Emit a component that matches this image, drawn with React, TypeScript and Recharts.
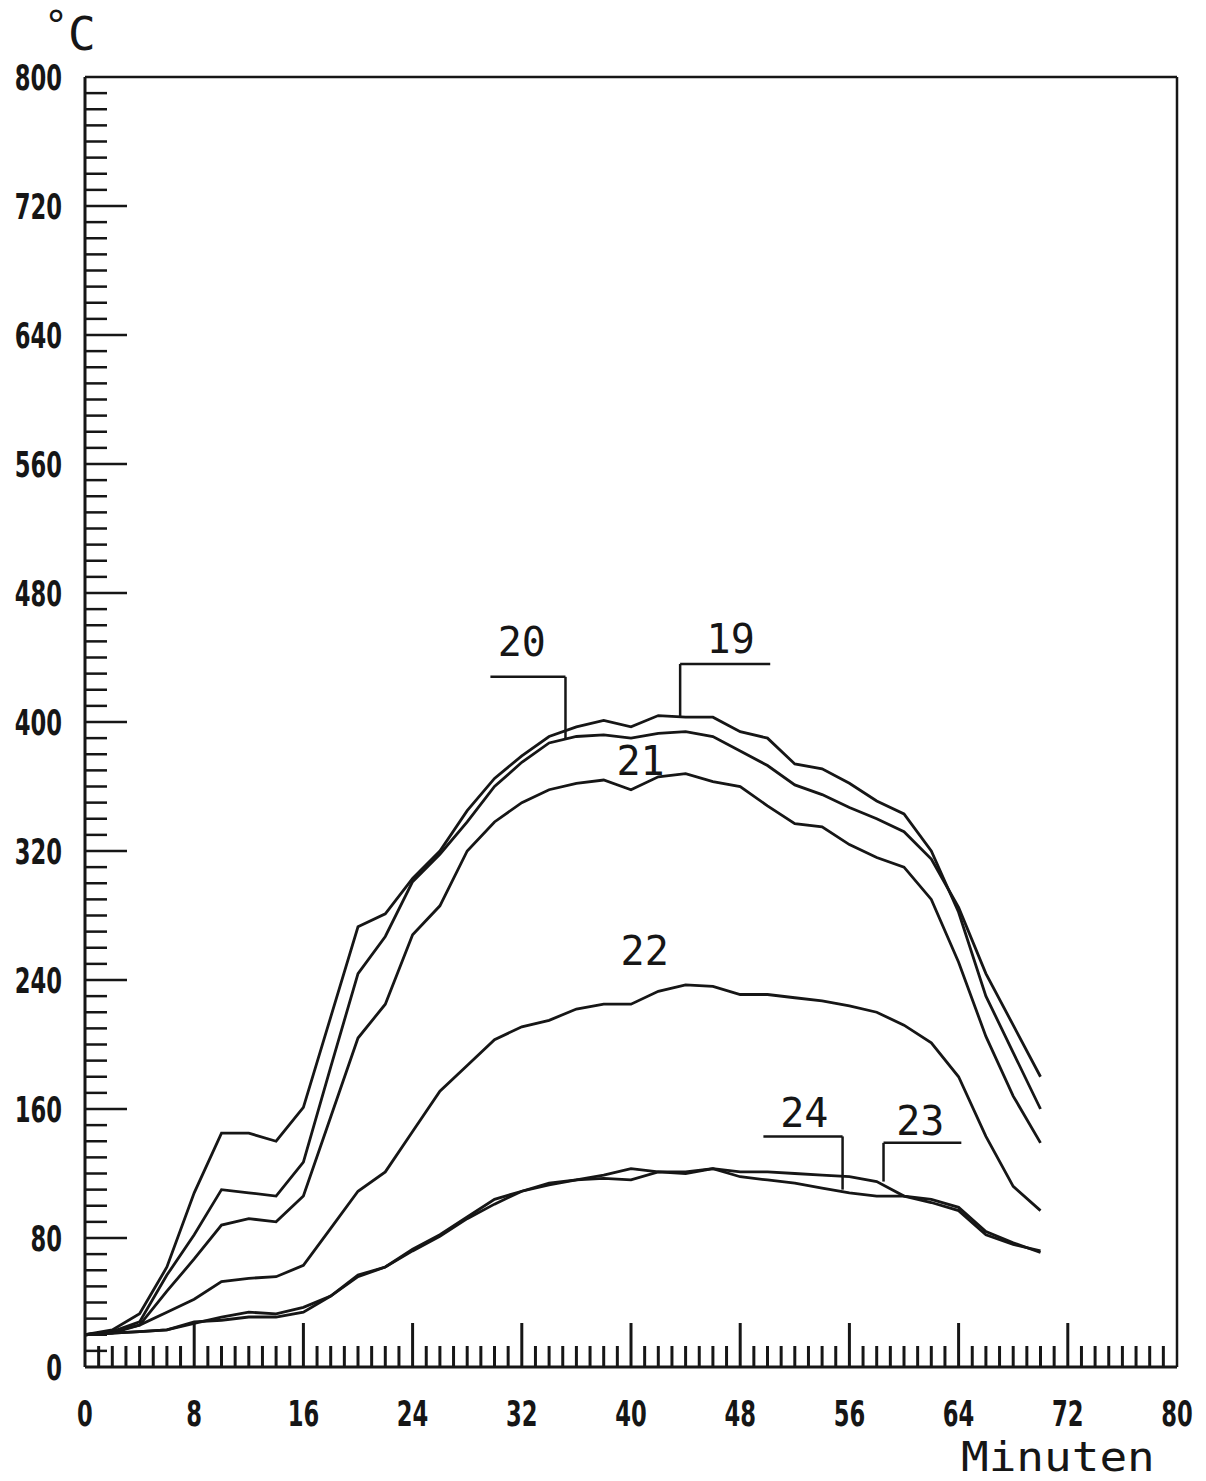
import React from "react";
import { LineChart, Line, XAxis, YAxis, ReferenceLine, ReferenceDot } from "recharts";

// Messzeit in Minuten (alle 2 min)
const minutes = [0, 2, 4, 6, 8, 10, 12, 14, 16, 18, 20, 22, 24, 26, 28, 30, 32, 34, 36, 38, 40, 42, 44, 46, 48, 50, 52, 54, 56, 58, 60, 62, 64, 66, 68, 70];

// Temperaturen der Messstellen 19..24 in °C
const m19 = [20, 23, 33, 62, 108, 145, 145, 140, 161, 217, 273, 281, 303, 320, 345, 365, 379, 391, 397, 401, 397, 404, 403, 403, 394, 390, 374, 371, 362, 351, 343, 320, 282, 230, 195, 160];
const m20 = [20, 22, 28, 57, 82, 110, 108, 106, 127, 186, 244, 267, 301, 318, 338, 360, 375, 387, 391, 392, 390, 393, 394, 391, 382, 373, 361, 355, 347, 340, 332, 315, 285, 244, 212, 180];
const m21 = [20, 21, 26, 47, 67, 88, 92, 90, 106, 155, 204, 225, 268, 286, 320, 338, 350, 358, 362, 364, 358, 366, 368, 363, 360, 348, 337, 335, 324, 316, 310, 290, 251, 205, 168, 139];
const m22 = [20, 22, 26, 34, 42, 53, 55, 56, 63, 86, 109, 121, 146, 171, 187, 203, 211, 215, 222, 225, 225, 233, 237, 236, 231, 231, 229, 227, 224, 220, 212, 201, 180, 143, 112, 97];
const m23 = [20, 21, 22, 23, 27, 31, 34, 33, 37, 44, 56, 62, 72, 81, 92, 101, 109, 113, 116, 117, 116, 121, 120, 123, 121, 121, 120, 119, 118, 115, 106, 104, 99, 84, 77, 71];
const m24 = [20, 21, 22, 23, 28, 29, 31, 31, 34, 44, 57, 62, 73, 82, 93, 104, 109, 114, 116, 119, 123, 121, 121, 123, 118, 116, 114, 111, 108, 106, 106, 102, 97, 82, 76, 72];

const seriesKeys = ["m19", "m20", "m21", "m22", "m23", "m24"];

const xTicks = Array.from({ length: 81 }, (_, i) => i);
const yTicks = Array.from({ length: 81 }, (_, i) => i * 10);

// Kurvenbeschriftungen (Text + Hinweislinien) in Datenkoordinaten
const curveLabels = [
  { text: "20", x: 32.0, y: 441 },
  { text: "19", x: 47.3, y: 443 },
  { text: "21", x: 40.7, y: 367 },
  { text: "22", x: 41.0, y: 249 },
  { text: "24", x: 52.7, y: 149 },
  { text: "23", x: 61.2, y: 144 },
];
const leaders = [
  [{ x: 29.7, y: 428 }, { x: 35.2, y: 428 }],
  [{ x: 35.2, y: 428 }, { x: 35.2, y: 389 }],
  [{ x: 43.6, y: 403 }, { x: 43.6, y: 436 }],
  [{ x: 43.6, y: 436 }, { x: 50.2, y: 436 }],
  [{ x: 49.7, y: 143 }, { x: 55.5, y: 143 }],
  [{ x: 55.5, y: 143 }, { x: 55.5, y: 110 }],
  [{ x: 58.5, y: 115 }, { x: 58.5, y: 139 }],
  [{ x: 58.5, y: 139 }, { x: 64.2, y: 139 }],
];

const data = minutes.map((t, i) => ({
  t,
  m19: m19[i],
  m20: m20[i],
  m21: m21[i],
  m22: m22[i],
  m23: m23[i],
  m24: m24[i],
}));

const INK = "#161616";
const tickFont = "'DejaVu Sans Condensed', 'DejaVu Sans', sans-serif";
const monoFont = "'DejaVu Sans Mono', 'Liberation Mono', monospace";

// schmale, hohe Ziffern wie beim Plotter
function NarrowText({ x, y, anchor, children }: any) {
  return (
    <text
      transform={`translate(${x},${y}) scale(0.72,1)`}
      textAnchor={anchor}
      fontFamily={tickFont}
      fontWeight={700}
      fontSize={35}
      fill={INK}
    >
      {children}
    </text>
  );
}

function YTick(props: any) {
  const { x, y, payload } = props;
  const v = payload.value;
  const major = v % 80 === 0;
  return (
    <g>
      {v !== 0 && v !== 800 && (
        <line x1={x} x2={x + (major ? 42 : 22)} y1={y} y2={y} stroke={INK} strokeWidth={2.5} />
      )}
      {major && (
        <NarrowText x={x - 23} y={y + 13} anchor="end">
          {v}
        </NarrowText>
      )}
    </g>
  );
}

function XTick(props: any) {
  const { x, y, payload } = props;
  const v = payload.value;
  const major = v % 8 === 0;
  return (
    <g>
      {v !== 0 && v !== 80 && (
        <line x1={x} x2={x} y1={y} y2={y - (major ? 44 : 21)} stroke={INK} strokeWidth={3} />
      )}
      {major && (
        <NarrowText x={x} y={y + 59} anchor="middle">
          {v}
        </NarrowText>
      )}
    </g>
  );
}

function LabelText(props: any) {
  const { cx, cy, text } = props;
  return (
    <text x={cx} y={cy} textAnchor="middle" fontFamily={monoFont} fontSize={40} fill={INK}>
      {text}
    </text>
  );
}

export default function App() {
  return (
    <div style={{ position: "absolute", left: 0, top: 0, width: 1206, height: 1481, background: "#fff" }}>
      <LineChart width={1206} height={1481} data={data} margin={{ top: 77, right: 29, bottom: 0, left: 0 }}>
        <XAxis
          dataKey="t"
          type="number"
          domain={[0, 80]}
          ticks={xTicks}
          interval={0}
          height={114}
          tickSize={0}
          tickMargin={0}
          tickLine={false}
          axisLine={{ stroke: INK, strokeWidth: 3 }}
          tick={<XTick />}
        />
        <YAxis
          type="number"
          domain={[0, 800]}
          ticks={yTicks}
          interval={0}
          width={85}
          tickSize={0}
          tickMargin={0}
          tickLine={false}
          axisLine={{ stroke: INK, strokeWidth: 3 }}
          tick={<YTick />}
        />
        <ReferenceLine y={800} stroke={INK} strokeWidth={2.5} />
        <ReferenceLine x={80} stroke={INK} strokeWidth={2.5} />
        {seriesKeys.map((k) => (
          <Line key={k} dataKey={k} type="linear" stroke={INK} strokeWidth={2.8} dot={false} isAnimationActive={false} />
        ))}
        {leaders.map((seg, i) => (
          <ReferenceLine key={"l" + i} segment={seg} stroke={INK} strokeWidth={2.5} />
        ))}
        {curveLabels.map((l) => (
          <ReferenceDot key={l.text} x={l.x} y={l.y} r={0} shape={(p: any) => <LabelText {...p} text={l.text} />} />
        ))}
      </LineChart>
      <svg width={1206} height={1481} style={{ position: "absolute", left: 0, top: 0, pointerEvents: "none" }}>
        <text x={44} y={40} fontFamily={monoFont} fontSize={40} fill={INK}>
          °
        </text>
        <text x={68} y={50} fontFamily={monoFont} fontSize={46} fill={INK}>
          C
        </text>
        <text transform="translate(961,1471) scale(1.15,1)" fontFamily={monoFont} fontSize={40} fill={INK}>
          Minuten
        </text>
      </svg>
    </div>
  );
}
